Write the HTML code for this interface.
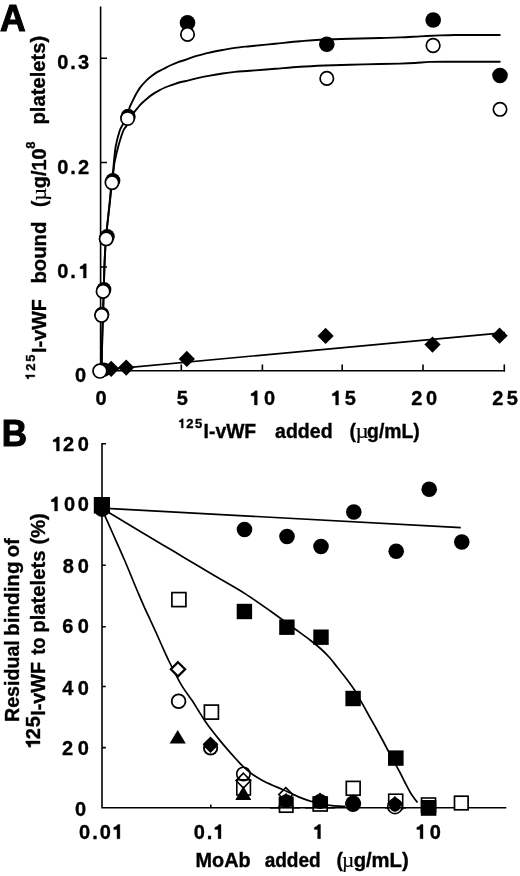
<!DOCTYPE html>
<html>
<head>
<meta charset="utf-8">
<title>Figure</title>
<style>
html,body{margin:0;padding:0;background:#fff;}
body{width:520px;height:876px;overflow:hidden;font-family:"Liberation Sans",sans-serif;}
svg{display:block;filter:blur(0.5px);}
text{font-family:"Liberation Sans",sans-serif;font-weight:bold;fill:#000;stroke:#000;stroke-width:0.35;}
.big{stroke-width:1.1;stroke-linejoin:miter;}
.sym{font-family:"Liberation Serif",serif;font-weight:normal;stroke-width:0.2;}
.ax{stroke:#000;stroke-width:1.6;fill:none;stroke-linecap:butt;}
.cv{stroke:#000;stroke-width:1.9;fill:none;stroke-linejoin:round;}
.ln{stroke:#000;stroke-width:1.7;fill:none;}
.gl{fill:#000;stroke:#000;stroke-width:0.35;stroke-linejoin:miter;}
.fc{fill:#000;stroke:none;}
.oc{fill:#fff;stroke:#000;stroke-width:1.7;}
.on{fill:none;stroke:#000;stroke-width:1.6;}
</style>
</head>
<body>
<svg width="520" height="876" viewBox="0 0 520 876">
<rect x="0" y="0" width="520" height="876" fill="#fff"/>

<!-- ================= PANEL A ================= -->
<g id="panelA">

<!-- axes -->
<path class="ax" d="M100.6 6.5V370.7H505"/>
<path class="ax" d="M100.6 58.3H107M100.6 162.5H107M100.6 267H107"/>
<path class="ax" d="M181.3 370.7V364.5M262.4 370.7V364.5M342.2 370.7V364.5M423 370.7V364.5M504.3 371.5V364.5"/>

<g id="textA">
<text id="t0" font-size="37.2" class="big" textLength="25.69" lengthAdjust="spacingAndGlyphs" x="0.05" y="30.60">A</text>
<text id="t1" font-size="20" x="57.16" y="69.20">0</text>
<text id="t2" font-size="20" x="70.22" y="69.20">.</text>
<text id="t3" font-size="20" x="77.91" y="69.20">3</text>
<text id="t4" font-size="20" x="57.16" y="173.60">0</text>
<text id="t5" font-size="20" x="70.22" y="173.60">.</text>
<text id="t6" font-size="20" x="78.03" y="173.60">2</text>
<text id="t7" font-size="20" x="57.16" y="278.00">0</text>
<text id="t8" font-size="20" x="70.22" y="278.00">.</text>
<path id="t9" class="gl" transform="translate(86.25 278.00)" d="M0.00 -14.20L-2.10 -14.20Q-3.30 -12.00 -6.18 -11.20L-6.18 -9.28L-2.86 -9.28L-2.86 0.00L0.00 0.00Z"/>
<text id="t10" font-size="20" x="74.96" y="382.10">0</text>
<text id="t11" font-size="20" x="95.48" y="405.00">0</text>
<text id="t12" font-size="20" x="176.73" y="405.00">5</text>
<path id="t13" class="gl" transform="translate(257.25 405.00)" d="M0.00 -14.20L-2.10 -14.20Q-3.30 -12.00 -6.18 -11.20L-6.18 -9.28L-2.86 -9.28L-2.86 0.00L0.00 0.00Z"/>
<text id="t14" font-size="20" x="263.96" y="405.00">0</text>
<path id="t15" class="gl" transform="translate(338.50 405.00)" d="M0.00 -14.20L-2.10 -14.20Q-3.30 -12.00 -6.18 -11.20L-6.18 -9.28L-2.86 -9.28L-2.86 0.00L0.00 0.00Z"/>
<text id="t16" font-size="20" x="344.66" y="405.00">5</text>
<text id="t17" font-size="20" x="411.30" y="405.00">2</text>
<text id="t18" font-size="20" x="426.09" y="405.00">0</text>
<text id="t19" font-size="20" x="492.36" y="405.00">2</text>
<text id="t20" font-size="20" x="506.73" y="405.00">5</text>
<path id="t21" class="gl" transform="translate(183.20 428.00)" d="M0.00 -9.23L-1.36 -9.23Q-2.15 -7.80 -4.02 -7.28L-4.02 -6.03L-1.86 -6.03L-1.86 0.00L0.00 0.00Z"/>
<text id="t22" font-size="13" x="186.31" y="428.00">2</text>
<text id="t23" font-size="13" x="195.04" y="428.00">5</text>
<text id="t24" font-size="19.4" textLength="52.60" lengthAdjust="spacingAndGlyphs" x="203.59" y="437.60">I-vWF</text>
<text id="t25" font-size="19.4" textLength="57.49" lengthAdjust="spacingAndGlyphs" x="275.10" y="437.60">added</text>
<text id="t26" font-size="19.4" x="349.42" y="437.60">(</text>
<text id="t27" font-size="20" class="sym" textLength="13.24" lengthAdjust="spacingAndGlyphs" x="355.55" y="437.60">µ</text>
<text id="t28" font-size="19.4" textLength="52.64" lengthAdjust="spacingAndGlyphs" x="367.11" y="437.60">g/mL)</text>
<path id="t29" class="gl" transform="translate(34.75 375.00) rotate(-90)" d="M0.00 -9.23L-1.36 -9.23Q-2.15 -7.80 -4.02 -7.28L-4.02 -6.03L-1.86 -6.03L-1.86 0.00L0.00 0.00Z"/>
<text id="t30" font-size="13" transform="translate(34.75 370.81) rotate(-90)">2</text>
<text id="t31" font-size="13" transform="translate(34.75 361.75) rotate(-90)">5</text>
<text id="t32" font-size="19.4" textLength="53.82" lengthAdjust="spacingAndGlyphs" transform="translate(45.50 352.90) rotate(-90)">I-vWF</text>
<text id="t33" font-size="19.4" textLength="61.88" lengthAdjust="spacingAndGlyphs" transform="translate(45.50 283.50) rotate(-90)">bound</text>
<text id="t34" font-size="19.4" transform="translate(45.50 206.90) rotate(-90)">(</text>
<text id="t35" font-size="20" class="sym" textLength="12.88" lengthAdjust="spacingAndGlyphs" transform="translate(45.50 200.76) rotate(-90)">µ</text>
<text id="t36" font-size="19.4" textLength="39.66" lengthAdjust="spacingAndGlyphs" transform="translate(45.50 188.22) rotate(-90)">g/10</text>
<text id="t37" font-size="13" transform="translate(35.00 148.81) rotate(-90)">8</text>
<text id="t38" font-size="19.4" textLength="88.76" lengthAdjust="spacingAndGlyphs" transform="translate(45.20 124.50) rotate(-90)">platelets)</text>
</g>
<!-- curves -->
<path class="cv" style="stroke-width:1.9" d="M101.60 371.00 C101.70 365.83 101.97 349.50 102.20 340.00 C102.43 330.50 102.73 322.33 103.00 314.00 C103.27 305.67 103.53 298.67 103.80 290.00 C104.07 281.33 104.23 270.67 104.60 262.00 C104.97 253.33 105.50 244.67 106.00 238.00 C106.50 231.33 107.00 227.83 107.60 222.00 C108.20 216.17 108.93 209.67 109.60 203.00 C110.27 196.33 111.00 187.50 111.60 182.00 C112.20 176.50 112.82 173.33 113.20 170.00 C113.58 166.67 113.47 166.00 113.90 162.00 C114.33 158.00 114.85 151.17 115.80 146.00 C116.75 140.83 118.47 134.50 119.60 131.00 C120.73 127.50 121.27 127.17 122.60 125.00 C123.93 122.83 126.47 120.82 127.60 118.00 C128.73 115.18 128.58 110.89 129.40 108.10 C130.22 105.31 131.36 103.64 132.50 101.25 C133.64 98.86 134.90 96.14 136.25 93.75 C137.60 91.36 138.93 89.09 140.60 86.90 C142.27 84.71 144.47 82.38 146.25 80.60 C148.03 78.82 149.38 77.70 151.25 76.25 C153.12 74.80 155.42 73.15 157.50 71.90 C159.58 70.65 161.46 69.90 163.75 68.75 C166.04 67.60 168.75 66.14 171.25 65.00 C173.75 63.86 176.46 62.73 178.75 61.90 C181.04 61.07 181.88 61.05 185.00 60.00 C188.12 58.95 193.33 56.85 197.50 55.60 C201.67 54.35 205.83 53.43 210.00 52.50 C214.17 51.57 218.33 50.77 222.50 50.00 C226.67 49.23 230.42 48.52 235.00 47.90 C239.58 47.27 243.33 46.94 250.00 46.25 C256.67 45.56 266.67 44.58 275.00 43.75 C283.33 42.92 292.50 41.92 300.00 41.25 C307.50 40.58 311.67 40.11 320.00 39.70 C328.33 39.29 340.00 39.08 350.00 38.80 C360.00 38.52 371.67 38.23 380.00 38.00 C388.33 37.77 393.33 37.67 400.00 37.40 C406.67 37.13 413.33 36.73 420.00 36.40 C426.67 36.07 434.17 35.63 440.00 35.40 C445.83 35.17 448.67 35.07 455.00 35.00 C461.33 34.93 470.42 35.00 478.00 35.00 C485.58 35.00 496.75 35.00 500.50 35.00"/>
<path class="cv" style="stroke-width:1.9" d="M101.60 371.00 C101.70 365.83 101.97 349.50 102.20 340.00 C102.43 330.50 102.73 322.33 103.00 314.00 C103.27 305.67 103.53 298.67 103.80 290.00 C104.07 281.33 104.23 270.67 104.60 262.00 C104.97 253.33 105.50 244.67 106.00 238.00 C106.50 231.33 106.97 227.83 107.60 222.00 C108.23 216.17 109.07 209.67 109.80 203.00 C110.53 196.33 111.37 187.50 112.00 182.00 C112.63 176.50 113.17 173.33 113.60 170.00 C114.03 166.67 113.80 166.00 114.60 162.00 C115.40 158.00 116.97 151.17 118.40 146.00 C119.83 140.83 121.87 134.33 123.20 131.00 C124.53 127.67 125.43 128.00 126.40 126.00 C127.37 124.00 127.67 121.35 129.00 119.00 C130.33 116.65 132.98 113.72 134.40 111.90 C135.82 110.08 136.36 109.46 137.50 108.10 C138.64 106.74 139.68 105.31 141.25 103.75 C142.82 102.19 145.03 100.31 146.90 98.75 C148.78 97.19 150.53 95.76 152.50 94.40 C154.47 93.04 156.67 91.75 158.75 90.60 C160.83 89.45 162.71 88.47 165.00 87.50 C167.29 86.53 170.00 85.62 172.50 84.75 C175.00 83.88 177.92 82.83 180.00 82.25 C182.08 81.67 182.08 81.94 185.00 81.25 C187.92 80.56 193.33 79.04 197.50 78.10 C201.67 77.16 205.83 76.37 210.00 75.60 C214.17 74.83 218.33 74.12 222.50 73.50 C226.67 72.88 230.42 72.36 235.00 71.90 C239.58 71.44 243.33 71.28 250.00 70.75 C256.67 70.22 266.67 69.42 275.00 68.75 C283.33 68.08 291.67 67.29 300.00 66.75 C308.33 66.21 316.67 65.84 325.00 65.50 C333.33 65.16 340.83 64.95 350.00 64.70 C359.17 64.45 371.67 64.18 380.00 64.00 C388.33 63.82 394.17 63.77 400.00 63.60 C405.83 63.43 410.00 63.28 415.00 63.00 C420.00 62.72 424.17 62.11 430.00 61.90 C435.83 61.69 442.50 61.77 450.00 61.75 C457.50 61.73 466.58 61.75 475.00 61.75 C483.42 61.75 496.25 61.75 500.50 61.75"/>
<!-- vWF low line -->
<path class="ln" d="M106 369.6L505 332.6"/>

<!-- filled circles -->
<circle class="fc" cx="187.5" cy="22.8" r="7.8"/>
<circle class="fc" cx="326.8" cy="44.3" r="7.8"/>
<circle class="fc" cx="433.2" cy="20" r="7.8"/>
<circle class="fc" cx="500" cy="75.5" r="7.8"/>
<circle class="fc" cx="128.1" cy="116.4" r="7.6"/>
<circle class="fc" cx="112.8" cy="180.6" r="7.6"/>
<circle class="fc" cx="107.2" cy="236.6" r="7.6"/>
<circle class="fc" cx="103.9" cy="289.6" r="7.5"/>
<circle class="fc" cx="101.9" cy="314.3" r="7.5"/>
<!-- open circles -->
<circle class="oc" cx="187.5" cy="34.4" r="6.7"/>
<circle class="oc" cx="326.8" cy="78.4" r="6.7"/>
<circle class="oc" cx="433.1" cy="45.5" r="6.8"/>
<circle class="oc" cx="500" cy="109.3" r="6.7"/>
<circle class="oc" cx="127.6" cy="118.5" r="6.7"/>
<circle class="oc" cx="112" cy="182.6" r="6.7"/>
<circle class="oc" cx="106.2" cy="238.8" r="6.7"/>
<circle class="oc" cx="103.1" cy="291.4" r="6.7"/>
<circle class="oc" cx="101.6" cy="315.3" r="6.7"/>
<!-- diamonds -->
<path class="fc" d="M111.2 360.7L119.3 368.8L111.2 376.9L103.1 368.8Z"/>
<path class="fc" d="M126.2 359.5L134.3 367.6L126.2 375.7L118.1 367.6Z"/>
<path class="fc" d="M186.8 350.8L194.9 358.9L186.8 367.0L178.7 358.9Z"/>
<path class="fc" d="M325.6 327.8L333.7 335.9L325.6 344.0L317.5 335.9Z"/>
<path class="fc" d="M432.5 336.5L440.6 344.6L432.5 352.7L424.4 344.6Z"/>
<path class="fc" d="M499.6 327.6L507.7 335.7L499.6 343.8L491.5 335.7Z"/>
<circle class="fc" cx="104" cy="369.6" r="7.2"/>
<circle class="oc" cx="99.9" cy="371.1" r="6.9"/>
</g>

<!-- ================= PANEL B ================= -->
<g id="panelB">

<path class="ax" d="M106 443.8H102V807.8H506.3"/>
<path class="ax" d="M102 504.8H105.8M102 565.3H105.8M102 626.7H105.8M102 686.5H105.8M102 747.6H105.8"/>
<path class="ax" d="M210.8 807.8V804.4M319.6 807.8V804.4M428.4 807.8V804.4" stroke-width="1.2"/>

<g id="textB">
<text id="t39" font-size="36.6" class="big" textLength="25.30" lengthAdjust="spacingAndGlyphs" x="1.85" y="445.80">B</text>
<path id="t40" class="gl" transform="translate(59.30 451.10)" d="M0.00 -14.20L-2.10 -14.20Q-3.30 -12.00 -6.18 -11.20L-6.18 -9.28L-2.86 -9.28L-2.86 0.00L0.00 0.00Z"/>
<text id="t41" font-size="20" x="62.89" y="451.10">2</text>
<text id="t42" font-size="20" x="77.74" y="451.10">0</text>
<path id="t43" class="gl" transform="translate(57.50 511.00)" d="M0.00 -14.20L-2.10 -14.20Q-3.30 -12.00 -6.18 -11.20L-6.18 -9.28L-2.86 -9.28L-2.86 0.00L0.00 0.00Z"/>
<text id="t44" font-size="20" x="63.96" y="511.00">0</text>
<text id="t45" font-size="20" x="77.74" y="511.00">0</text>
<text id="t46" font-size="20" x="62.82" y="573.30">8</text>
<text id="t47" font-size="20" x="77.74" y="573.30">0</text>
<text id="t48" font-size="20" x="62.17" y="633.30">6</text>
<text id="t49" font-size="20" x="77.74" y="633.30">0</text>
<text id="t50" font-size="20" x="62.21" y="694.80">4</text>
<text id="t51" font-size="20" x="77.74" y="694.80">0</text>
<text id="t52" font-size="20" x="61.89" y="754.60">2</text>
<text id="t53" font-size="20" x="77.74" y="754.60">0</text>
<text id="t54" font-size="20" x="75.06" y="816.10">0</text>
<text id="t55" font-size="20" x="79.07" y="838.70">0</text>
<text id="t56" font-size="20" x="92.22" y="838.70">.</text>
<text id="t57" font-size="20" x="99.70" y="838.70">0</text>
<path id="t58" class="gl" transform="translate(119.90 838.70)" d="M0.00 -14.20L-2.10 -14.20Q-3.30 -12.00 -6.18 -11.20L-6.18 -9.28L-2.86 -9.28L-2.86 0.00L0.00 0.00Z"/>
<text id="t59" font-size="20" x="193.67" y="838.70">0</text>
<text id="t60" font-size="20" x="206.80" y="838.70">.</text>
<path id="t61" class="gl" transform="translate(221.00 838.70)" d="M0.00 -14.20L-2.10 -14.20Q-3.30 -12.00 -6.18 -11.20L-6.18 -9.28L-2.86 -9.28L-2.86 0.00L0.00 0.00Z"/>
<path id="t62" class="gl" transform="translate(320.50 838.70)" d="M0.00 -14.20L-2.10 -14.20Q-3.30 -12.00 -6.18 -11.20L-6.18 -9.28L-2.86 -9.28L-2.86 0.00L0.00 0.00Z"/>
<path id="t63" class="gl" transform="translate(423.00 838.70)" d="M0.00 -14.20L-2.10 -14.20Q-3.30 -12.00 -6.18 -11.20L-6.18 -9.28L-2.86 -9.28L-2.86 0.00L0.00 0.00Z"/>
<text id="t64" font-size="20" x="429.74" y="838.70">0</text>
<text id="t65" font-size="19.3" textLength="55.03" lengthAdjust="spacingAndGlyphs" x="195.58" y="866.90">MoAb</text>
<text id="t66" font-size="19.3" textLength="56.14" lengthAdjust="spacingAndGlyphs" x="264.64" y="866.90">added</text>
<text id="t67" font-size="19.3" x="336.40" y="866.90">(</text>
<text id="t68" font-size="20.5" class="sym" textLength="12.21" lengthAdjust="spacingAndGlyphs" x="342.12" y="866.90">µ</text>
<text id="t69" font-size="19.3" textLength="55.04" lengthAdjust="spacingAndGlyphs" x="353.67" y="866.90">g/mL)</text>
<text id="t70" font-size="19.8" textLength="81.69" lengthAdjust="spacingAndGlyphs" transform="translate(19.20 721.95) rotate(-90)">Residual</text>
<text id="t71" font-size="19.8" textLength="74.45" lengthAdjust="spacingAndGlyphs" transform="translate(19.20 635.89) rotate(-90)">binding</text>
<text id="t72" font-size="19.8" textLength="18.96" lengthAdjust="spacingAndGlyphs" transform="translate(19.20 557.23) rotate(-90)">of</text>
<path id="t73" class="gl" transform="translate(40.00 741.00) rotate(-90)" d="M0.00 -14.20L-2.10 -14.20Q-3.30 -12.00 -6.18 -11.20L-6.18 -9.28L-2.86 -9.28L-2.86 0.00L0.00 0.00Z"/>
<text id="t74" font-size="20" transform="translate(40.00 739.36) rotate(-90)">2</text>
<text id="t75" font-size="20" transform="translate(40.00 727.35) rotate(-90)">5</text>
<text id="t76" font-size="19.8" textLength="53.86" lengthAdjust="spacingAndGlyphs" transform="translate(45.40 715.75) rotate(-90)">I-vWF</text>
<text id="t77" font-size="19.8" textLength="17.26" lengthAdjust="spacingAndGlyphs" transform="translate(45.20 654.83) rotate(-90)">to</text>
<text id="t78" font-size="19.8" textLength="82.16" lengthAdjust="spacingAndGlyphs" transform="translate(45.20 632.73) rotate(-90)">platelets</text>
<text id="t79" font-size="19.8" textLength="31.20" lengthAdjust="spacingAndGlyphs" transform="translate(45.20 544.53) rotate(-90)">(%)</text>
</g>
<!-- fitted lines/curves -->
<path class="ln" d="M102 508.1L460.8 527.6"/>
<path class="cv" style="stroke-width:1.7" d="M102.00 508.40 C105.83 510.72 117.00 517.50 125.00 522.30 C133.00 527.10 141.67 532.23 150.00 537.20 C158.33 542.17 166.67 547.13 175.00 552.10 C183.33 557.07 192.17 562.35 200.00 567.00 C207.83 571.65 214.50 575.57 222.00 580.00 C229.50 584.43 237.00 588.47 245.00 593.60 C253.00 598.73 261.67 604.90 270.00 610.80 C278.33 616.70 288.33 624.13 295.00 629.00 C301.67 633.87 305.67 636.67 310.00 640.00 C314.33 643.33 317.75 646.08 321.00 649.00 C324.25 651.92 326.75 654.42 329.50 657.50 C332.25 660.58 334.75 664.05 337.50 667.50 C340.25 670.95 343.17 674.45 346.00 678.20 C348.83 681.95 351.75 685.70 354.50 690.00 C357.25 694.30 359.92 699.42 362.50 704.00 C365.08 708.58 367.67 713.33 370.00 717.50 C372.33 721.67 374.42 725.25 376.50 729.00 C378.58 732.75 380.58 736.42 382.50 740.00 C384.42 743.58 386.08 746.92 388.00 750.50 C389.92 754.08 392.00 757.83 394.00 761.50 C396.00 765.17 398.17 769.00 400.00 772.50 C401.83 776.00 403.33 779.25 405.00 782.50 C406.67 785.75 408.50 789.42 410.00 792.00 C411.50 794.58 412.75 796.25 414.00 798.00 C415.25 799.75 416.92 801.75 417.50 802.50"/>
<path class="cv" style="stroke-width:1.7" d="M101.60 508.40 C103.50 512.67 109.18 525.40 113.00 534.00 C116.82 542.60 121.20 552.33 124.50 560.00 C127.80 567.67 130.55 574.58 132.80 580.00 C135.05 585.42 136.10 588.02 138.00 592.50 C139.90 596.98 142.15 602.32 144.20 606.90 C146.25 611.48 148.23 615.52 150.30 620.00 C152.37 624.48 154.53 629.17 156.60 633.75 C158.67 638.33 160.65 642.96 162.70 647.50 C164.75 652.04 166.75 656.55 168.90 661.00 C171.05 665.45 173.35 669.93 175.60 674.20 C177.85 678.47 179.62 682.17 182.40 686.60 C185.18 691.03 189.70 696.90 192.30 700.80 C194.90 704.70 195.88 706.65 198.00 710.00 C200.12 713.35 202.67 717.47 205.00 720.90 C207.33 724.33 209.53 727.35 212.00 730.60 C214.47 733.85 217.08 737.10 219.80 740.40 C222.52 743.70 225.60 747.30 228.30 750.40 C231.00 753.50 233.55 756.33 236.00 759.00 C238.45 761.67 240.33 763.90 243.00 766.40 C245.67 768.90 248.83 771.70 252.00 774.00 C255.17 776.30 258.67 778.37 262.00 780.20 C265.33 782.03 268.67 783.50 272.00 785.00 C275.33 786.50 278.40 787.60 282.00 789.20 C285.60 790.80 290.10 793.03 293.60 794.60 C297.10 796.17 299.85 797.40 303.00 798.60 C306.15 799.80 309.33 800.90 312.50 801.80 C315.67 802.70 318.75 803.37 322.00 804.00 C325.25 804.63 328.17 805.20 332.00 805.60 C335.83 806.00 342.83 806.27 345.00 806.40"/>

<!-- control filled circles -->
<circle class="fc" cx="102" cy="509" r="7.9"/>
<circle class="fc" cx="244.5" cy="529.5" r="7.8"/>
<circle class="fc" cx="287" cy="536.5" r="7.8"/>
<circle class="fc" cx="321" cy="546.5" r="7.8"/>
<circle class="fc" cx="353.8" cy="512" r="7.8"/>
<circle class="fc" cx="396.2" cy="551.2" r="7.8"/>
<circle class="fc" cx="429.2" cy="489.2" r="7.8"/>
<circle class="fc" cx="461.8" cy="542" r="7.8"/>

<!-- filled squares -->
<rect class="fc" x="93.8" y="497" width="16.2" height="16.6"/>
<rect class="fc" x="236.7" y="603.8" width="15.4" height="15.4"/>
<rect class="fc" x="279.2" y="619.5" width="15.4" height="15.4"/>
<rect class="fc" x="313.3" y="629.5" width="15.4" height="15.4"/>
<rect class="fc" x="345.4" y="690.8" width="15.4" height="15.4"/>
<rect class="fc" x="388" y="750.4" width="15.6" height="15.4"/>

<!-- 0.05 cluster -->
<rect class="oc" x="171.9" y="592.6" width="14" height="14"/>
<path class="oc" style="stroke-width:2.3" d="M178 662.2L185.1 669.3L178 676.4L170.9 669.3Z"/>
<circle class="oc" style="stroke-width:1.8" cx="178.6" cy="701.3" r="6.9"/>
<path class="fc" d="M177.7 730L185.8 743.6H169.6Z"/>

<!-- 0.1 cluster -->
<rect class="oc" x="204.4" y="705.1" width="14" height="14"/>
<circle class="fc" cx="210.6" cy="747.9" r="7.6"/>
<clipPath id="cr1"><polygon points="199,741.5 210.5,753 222,741.5 222,760 199,760"/></clipPath>
<circle cx="210.6" cy="747.9" r="5.7" fill="#fff" clip-path="url(#cr1)"/>
<path class="fc" d="M210.5 736.4L218.4 744.3L210.5 752.2L202.6 744.3Z"/>

<!-- 0.2 cluster -->
<path class="fc" d="M243.3 786L251.3 799.9H235.3Z"/>
<rect class="on" x="236.8" y="779.8" width="13.6" height="15.2"/>
<path class="on" d="M243.4 773.2L250.7 780.6L243.4 788L236.1 780.6Z"/>
<circle class="on" cx="243.4" cy="773.9" r="6.7"/>

<!-- 0.5 cluster -->
<rect class="oc" x="279.5" y="797.4" width="13.4" height="14.8"/>
<path class="ax" d="M270 807.8H300"/>
<path class="fc" d="M286 792.6L294 806.8H278Z"/>
<circle class="fc" cx="286.1" cy="801.2" r="6.9"/>
<path class="on" d="M285.8 787.6L292.8 794.6L285.8 801.6L278.8 794.6Z"/>

<!-- 1 cluster -->
<rect class="oc" x="313.2" y="797" width="14" height="14"/>
<path class="ax" d="M305 807.8H335"/>
<circle class="fc" cx="320.1" cy="801.4" r="7.5"/>
<rect class="fc" x="313" y="797.4" width="14.4" height="10.6"/>
<path class="fc" d="M320 792.6L327.8 800.4L320 808.2L312.2 800.4Z"/>

<!-- 2 cluster -->
<rect class="oc" x="346.3" y="781.4" width="13.8" height="13.8"/>
<circle class="on" cx="353" cy="804.2" r="7"/>
<circle class="fc" cx="353.2" cy="803.3" r="7.9"/>
<path class="fc" d="M353.1 794.2L361.1 802.4L353.1 810.6L345.1 802.4Z"/>

<!-- 5 cluster -->
<rect class="on" x="388.7" y="794.2" width="14" height="14.6"/>
<circle class="oc" cx="395" cy="806.4" r="7.2"/>
<path class="ax" d="M385 807.8H406"/>
<path class="fc" d="M394.9 796L402.6 803.8L394.9 811.6L387.2 803.8Z"/>
<circle class="fc" cx="395" cy="806" r="5.7"/>

<!-- 10 cluster -->
<rect class="on" x="421.5" y="798" width="14" height="14"/>
<rect class="fc" x="420.8" y="800" width="15.6" height="15.8"/>

<!-- 20 -->
<rect class="oc" x="454.5" y="796.2" width="13.6" height="13.6"/>
</g>
</svg>
</body>
</html>
